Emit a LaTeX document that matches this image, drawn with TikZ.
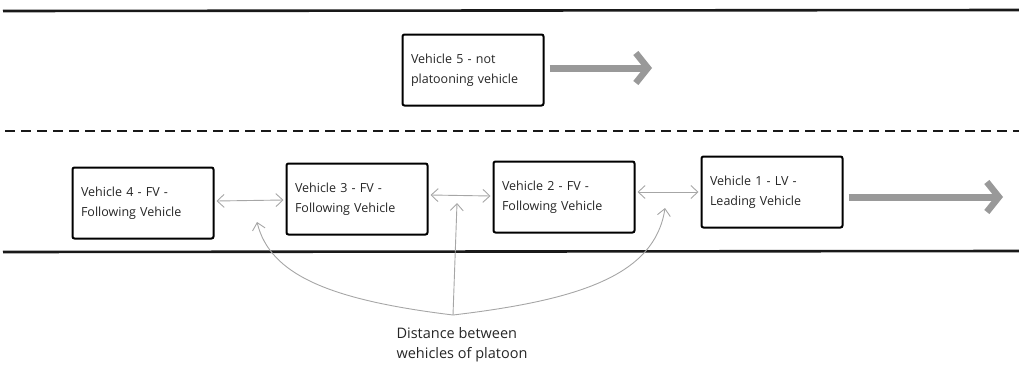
\documentclass[tikz,border=0pt]{standalone}
\usepackage{fontspec}
\setmainfont{Open Sans}
\usetikzlibrary{arrows.meta}
\begin{document}
\begin{tikzpicture}[x=1pt,y=-1pt,
  vbox/.style={draw=black, line width=2pt, rounded corners=2pt, fill=white,
    minimum width=141pt, minimum height=71pt, text width=124pt, align=left,
    inner sep=0pt, font=\fontsize{12.5}{20}\selectfont, text=black!85},
  road/.style={line width=2.6pt, black!90},
  lane/.style={line width=2.4pt, black!90, dash pattern=on 10pt off 6pt},
  motion/.style={line width=7pt, black!40, -{Straight Barb[length=12pt,width=30pt,line width=6.5pt]}},
  gap/.style={draw=black!35, line width=0.9pt, {Straight Barb[length=7pt,width=13pt]}-{Straight Barb[length=7pt,width=13pt]}},
  pointer/.style={draw=black!35, line width=0.9pt, -{Straight Barb[length=7pt,width=13pt]}},
  lbl/.style={align=left, font=\fontsize{14.5}{20}\selectfont, text=black!85, inner sep=0pt}
]
\useasboundingbox (0,0) rectangle (1019,367);
% road lines
\coordinate (rtl) at (3,11);   \coordinate (rtr) at (1019,10);
\coordinate (rml) at (5,131);  \coordinate (rmr) at (1019,131);
\coordinate (rbl) at (3,252);  \coordinate (rbr) at (1019,251);
\draw[road] (rtl) -- (rtr);
\draw[lane] (rml) -- (rmr);
\draw[road] (rbl) -- (rbr);
% vehicles
\node[vbox] (v5) at (473,70) {Vehicle 5 - not\\platooning vehicle};
\node[vbox] (v4) at (143,203) {Vehicle 4 - FV -\\Following Vehicle};
\node[vbox] (v3) at (357,199) {Vehicle 3 - FV -\\Following Vehicle};
\node[vbox] (v2) at (564,197) {Vehicle 2 - FV -\\Following Vehicle};
\node[vbox] (v1) at (772,192) {Vehicle 1 - LV -\\Leading Vehicle};
% motion arrows
\coordinate (m5) at (652,68);
\coordinate (m1) at (1003,197);
\draw[motion] ([xshift=5pt]v5.east |- m5) -- (m5);
\draw[motion] ([xshift=5pt]v1.east |- m1) -- (m1);
% gaps
\draw[gap] ([xshift=2pt]v4.east |- 0,201) -- ([xshift=-2pt]v3.west |- 0,200);
\draw[gap] ([xshift=2pt]v3.east |- 0,195) -- ([xshift=-2pt]v2.west |- 0,196);
\draw[gap] ([xshift=2pt]v2.east |- 0,192) -- ([xshift=-2pt]v1.west |- 0,192);
% label and pointers
\node[lbl] (lab) at (462,345) {Distance between\\wehicles of platoon};
\coordinate (j) at (453,315);
\coordinate (t1) at (257,222);
\coordinate (t2) at (457,203);
\coordinate (t3) at (665,208);
\draw[pointer] (j) .. controls (330,300) and (270,275) .. (t1);
\draw[pointer] (j) -- (t2);
\draw[pointer] (j) .. controls (580,300) and (655,275) .. (t3);
\end{tikzpicture}
\end{document}
